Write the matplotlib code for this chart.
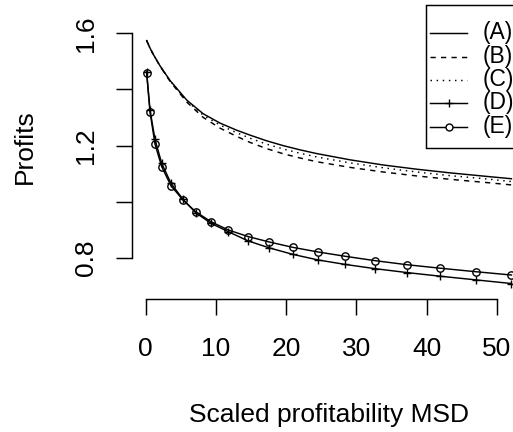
import matplotlib
matplotlib.use("Agg")
import matplotlib.pyplot as plt
from matplotlib.patches import Rectangle
from matplotlib.lines import Line2D

plt.rcParams["font.family"] = ["Liberation Sans", "DejaVu Sans"]

# Smooth curves (A)-(C)
x_smooth = [0.14, 0.6, 1.08, 2.04, 3.46, 5.84, 8.2, 10.58, 12.96, 14.86, 17.2,
            19.6, 21.98, 24.36, 29.1, 33.85, 38.6, 43.35, 48.1, 52.1]
profit_a = [1.574, 1.548, 1.525, 1.484, 1.432, 1.362, 1.313, 1.280, 1.2545, 1.237,
            1.217, 1.1995, 1.1845, 1.1712, 1.149, 1.1305, 1.1155, 1.1025, 1.091, 1.0815]
profit_b = [1.574, 1.548, 1.525, 1.483, 1.429, 1.355, 1.300, 1.262, 1.2325, 1.211,
            1.189, 1.1705, 1.1555, 1.1422, 1.122, 1.1055, 1.0915, 1.0795, 1.069, 1.0595]
profit_c = [1.574, 1.548, 1.525, 1.484, 1.431, 1.359, 1.308, 1.273, 1.2455, 1.226,
            1.205, 1.1875, 1.1725, 1.1592, 1.138, 1.1205, 1.1055, 1.0925, 1.082, 1.0715]

# Curves with point symbols (D), (E)
x_points = [0.13, 0.61, 1.32, 2.28, 3.60, 5.31, 7.12, 9.30, 11.77, 14.57, 17.61,
            20.94, 24.54, 28.43, 32.66, 37.22, 41.97, 47.01, 52.1]
profit_d = [1.463, 1.327, 1.222, 1.1365, 1.0652, 1.0082, 0.9604, 0.9226, 0.8927,
            0.860, 0.835, 0.812, 0.792, 0.776, 0.761, 0.747, 0.734, 0.721, 0.708]
profit_e = [1.46, 1.3205, 1.2053, 1.1244, 1.0567, 1.0057, 0.964, 0.9283, 0.8988,
            0.8755, 0.856, 0.837, 0.8205, 0.805, 0.7895, 0.775, 0.7625, 0.7501, 0.7383]

series_labels = ["(A)", "(B)", "(C)", "(D)", "(E)"]
x_ticks = [0, 10, 20, 30, 40, 50]
y_ticks = [0.8, 1.0, 1.2, 1.4, 1.6]
y_tick_labels = ["0.8", "", "1.2", "", "1.6"]

W, H = 513, 432
fig = plt.figure(figsize=(W / 100, H / 100), dpi=100)

# plot region in pixels: left 132, right 526 (runs past the edge), top 5, bottom 299
left_px, right_px, top_px, bottom_px = 132, 526, 5, 299
ax = fig.add_axes([left_px / W, (H - bottom_px) / H,
                   (right_px - left_px) / W, (bottom_px - top_px) / H])
ax.set_xlim(-1.952, 54.17)
ax.set_ylim(0.6528, 1.7009)
ax.patch.set_visible(False)

lw = 1.05
dashed = (0, (3.6, 3.6))
dotted = (0, (1.0, 3.2))
styles = dict(color="black", lw=lw)
ax.plot(x_smooth, profit_a, linestyle="-", **styles)
ax.plot(x_smooth, profit_b, linestyle=dashed, **styles)
ax.plot(x_smooth, profit_c, linestyle=dotted, **styles)
ax.plot(x_points, profit_d, linestyle="-", marker="+", ms=6.2, mew=1.0, **styles)
ax.plot(x_points, profit_e, linestyle="-", marker="o", ms=5.3, mew=1.0,
        mfc="none", **styles)

for side in ("top", "right"):
    ax.spines[side].set_visible(False)
ax.spines["left"].set_bounds(y_ticks[0], y_ticks[-1])
ax.spines["bottom"].set_bounds(x_ticks[0], x_ticks[-1])
for side in ("left", "bottom"):
    ax.spines[side].set_linewidth(lw)

ax.set_xticks(x_ticks)
ax.set_xticklabels([str(v) for v in x_ticks])
ax.set_yticks(y_ticks)
ax.set_yticklabels(y_tick_labels)
ax.tick_params(axis="both", direction="out", length=11.3, width=lw,
               labelsize=19, colors="black")
ax.tick_params(axis="x", pad=16)
ax.tick_params(axis="y", pad=13)
for lab in ax.get_yticklabels():
    lab.set_rotation(90)
    lab.set_va("center")
    lab.set_ha("right")

fig.text(329 / W, (H - 421.7) / H, "Scaled profitability MSD", fontsize=19,
         ha="center", va="baseline")
fig.text(31.7 / W, (H - 146.5) / H, "Profits", fontsize=19, rotation=90,
         rotation_mode="anchor", ha="center", va="baseline")

# legend box, drawn in pixel space
lg = fig.add_axes([0, 0, 1, 1])
lg.set_xlim(0, W)
lg.set_ylim(H, 0)
lg.axis("off")
lg.add_patch(Rectangle((425.7, 5), 150, 142.7, facecolor="white",
                       edgecolor="black", lw=lw))
row_y = [33.3, 56.6, 80.0, 103.3, 126.7]
handles = [dict(linestyle="-"), dict(linestyle=dashed), dict(linestyle=dotted),
           dict(linestyle="-"), dict(linestyle="-")]
for i, (lab, yy) in enumerate(zip(series_labels, row_y)):
    lg.add_line(Line2D([430, 467], [yy, yy], color="black", lw=lw, **handles[i]))
    if i == 3:
        lg.plot([448.5], [yy], marker="+", ms=6.2, mew=1.0, color="black")
    if i == 4:
        lg.plot([448.5], [yy], marker="o", ms=5.0, mew=1.0, mfc="white", color="black")
    lg.text(482.5, yy + 6.0, lab, fontsize=16.5, ha="left", va="baseline")

fig.savefig("out.png", dpi=100)
